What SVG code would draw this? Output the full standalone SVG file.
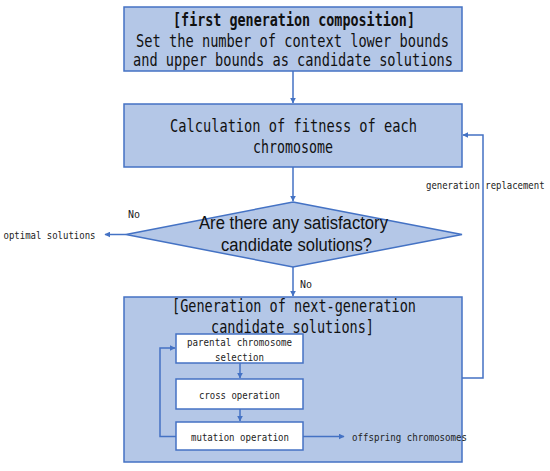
<svg xmlns="http://www.w3.org/2000/svg" width="550" height="471" viewBox="0 0 550 471">
<defs>
<marker id="ah" viewBox="0 0 10 10" refX="9" refY="5" markerWidth="6" markerHeight="6" markerUnits="userSpaceOnUse" orient="auto">
<path d="M0,0 L10,5 L0,10 z" fill="#4472C4"/>
</marker>
<style>
.box{fill:#B4C7E7;stroke:#4472C4;stroke-width:1.5}
.wbox{fill:#FFFFFF;stroke:#4472C4;stroke-width:1.5}
.ln{fill:none;stroke:#4472C4;stroke-width:1.5}
.big{font-family:"DejaVu Sans Mono","Liberation Mono",monospace;font-size:17px;fill:#111}
.sans{font-family:"Liberation Sans",Arial,sans-serif;font-size:18px;fill:#111}
.sm{font-family:"DejaVu Sans Mono","Liberation Mono",monospace;font-size:11px;fill:#222}
</style>
</defs>
<rect width="550" height="471" fill="#FFFFFF"/>
<g id="connectors">
<line class="ln" x1="293" y1="71" x2="293" y2="103" marker-end="url(#ah)"/>
<line class="ln" x1="293" y1="167" x2="293" y2="201" marker-end="url(#ah)"/>
<line class="ln" x1="126" y1="234.5" x2="105" y2="234.5" marker-end="url(#ah)"/>
<line class="ln" x1="293" y1="267" x2="293" y2="296" marker-end="url(#ah)"/>
<polyline class="ln" points="462,378 483,378 483,135 463,135" marker-end="url(#ah)"/>
</g>
<g id="n1">
<rect class="box" x="124" y="7" width="338" height="64"/>
<text class="big" x="294" y="26" text-anchor="middle" font-weight="bold" textLength="242" lengthAdjust="spacingAndGlyphs">[first generation composition]</text>
<text class="big" x="292.5" y="47" text-anchor="middle" textLength="313" lengthAdjust="spacingAndGlyphs">Set the number of context lower bounds</text>
<text class="big" x="293" y="66" text-anchor="middle" textLength="320" lengthAdjust="spacingAndGlyphs">and upper bounds as candidate solutions</text>
</g>
<g id="n2">
<rect class="box" x="124" y="104" width="338" height="63"/>
<text class="big" x="293.5" y="132" text-anchor="middle" textLength="247" lengthAdjust="spacingAndGlyphs">Calculation of fitness of each</text>
<text class="big" x="293" y="153" text-anchor="middle" textLength="80" lengthAdjust="spacingAndGlyphs">chromosome</text>
</g>
<g id="n3">
<polygon class="box" points="293,202 462,234.5 293,267 126,234.5"/>
<text class="sans" x="293.5" y="229" text-anchor="middle" textLength="189" lengthAdjust="spacingAndGlyphs">Are there any satisfactory</text>
<text class="sans" x="296.5" y="251" text-anchor="middle" textLength="151" lengthAdjust="spacingAndGlyphs">candidate solutions?</text>
</g>
<text class="sm" x="128" y="218" textLength="12" lengthAdjust="spacingAndGlyphs">No</text>
<text class="sm" x="300" y="288" textLength="12" lengthAdjust="spacingAndGlyphs">No</text>
<text class="sm" x="3.5" y="239" textLength="92" lengthAdjust="spacingAndGlyphs">optimal solutions</text>
<text class="sm" transform="translate(426,189) scale(0.815,1)" x="0" y="0">generation replacement</text>
<g id="n4">
<rect class="box" x="124" y="297" width="338" height="165"/>
<text class="big" x="294" y="312" text-anchor="middle" textLength="244" lengthAdjust="spacingAndGlyphs">[Generation of next-generation</text>
<text class="big" x="292.5" y="333" text-anchor="middle" textLength="163" lengthAdjust="spacingAndGlyphs">candidate solutions]</text>
</g>
<g id="inner-connectors">
<line class="ln" x1="240" y1="363" x2="240" y2="378" marker-end="url(#ah)"/>
<line class="ln" x1="240" y1="409" x2="240" y2="421" marker-end="url(#ah)"/>
<polyline class="ln" points="176,436.5 160,436.5 160,348 175,348" marker-end="url(#ah)"/>
<line class="ln" x1="303" y1="436.5" x2="344" y2="436.5" marker-end="url(#ah)"/>
</g>
<g id="n5">
<rect class="wbox" x="176" y="334" width="127" height="29"/>
<text class="sm" x="239.5" y="346" text-anchor="middle" textLength="105" lengthAdjust="spacingAndGlyphs">parental chromosome</text>
<text class="sm" x="239.5" y="361" text-anchor="middle" textLength="49" lengthAdjust="spacingAndGlyphs">selection</text>
</g>
<g id="n6">
<rect class="wbox" x="176" y="379" width="127" height="30"/>
<text class="sm" x="239.5" y="399" text-anchor="middle" textLength="81" lengthAdjust="spacingAndGlyphs">cross operation</text>
</g>
<g id="n7">
<rect class="wbox" x="176" y="422" width="127" height="28"/>
<text class="sm" x="240" y="441" text-anchor="middle" textLength="98" lengthAdjust="spacingAndGlyphs">mutation operation</text>
</g>
<text class="sm" x="352" y="441" textLength="115" lengthAdjust="spacingAndGlyphs">offspring chromosomes</text>
</svg>
